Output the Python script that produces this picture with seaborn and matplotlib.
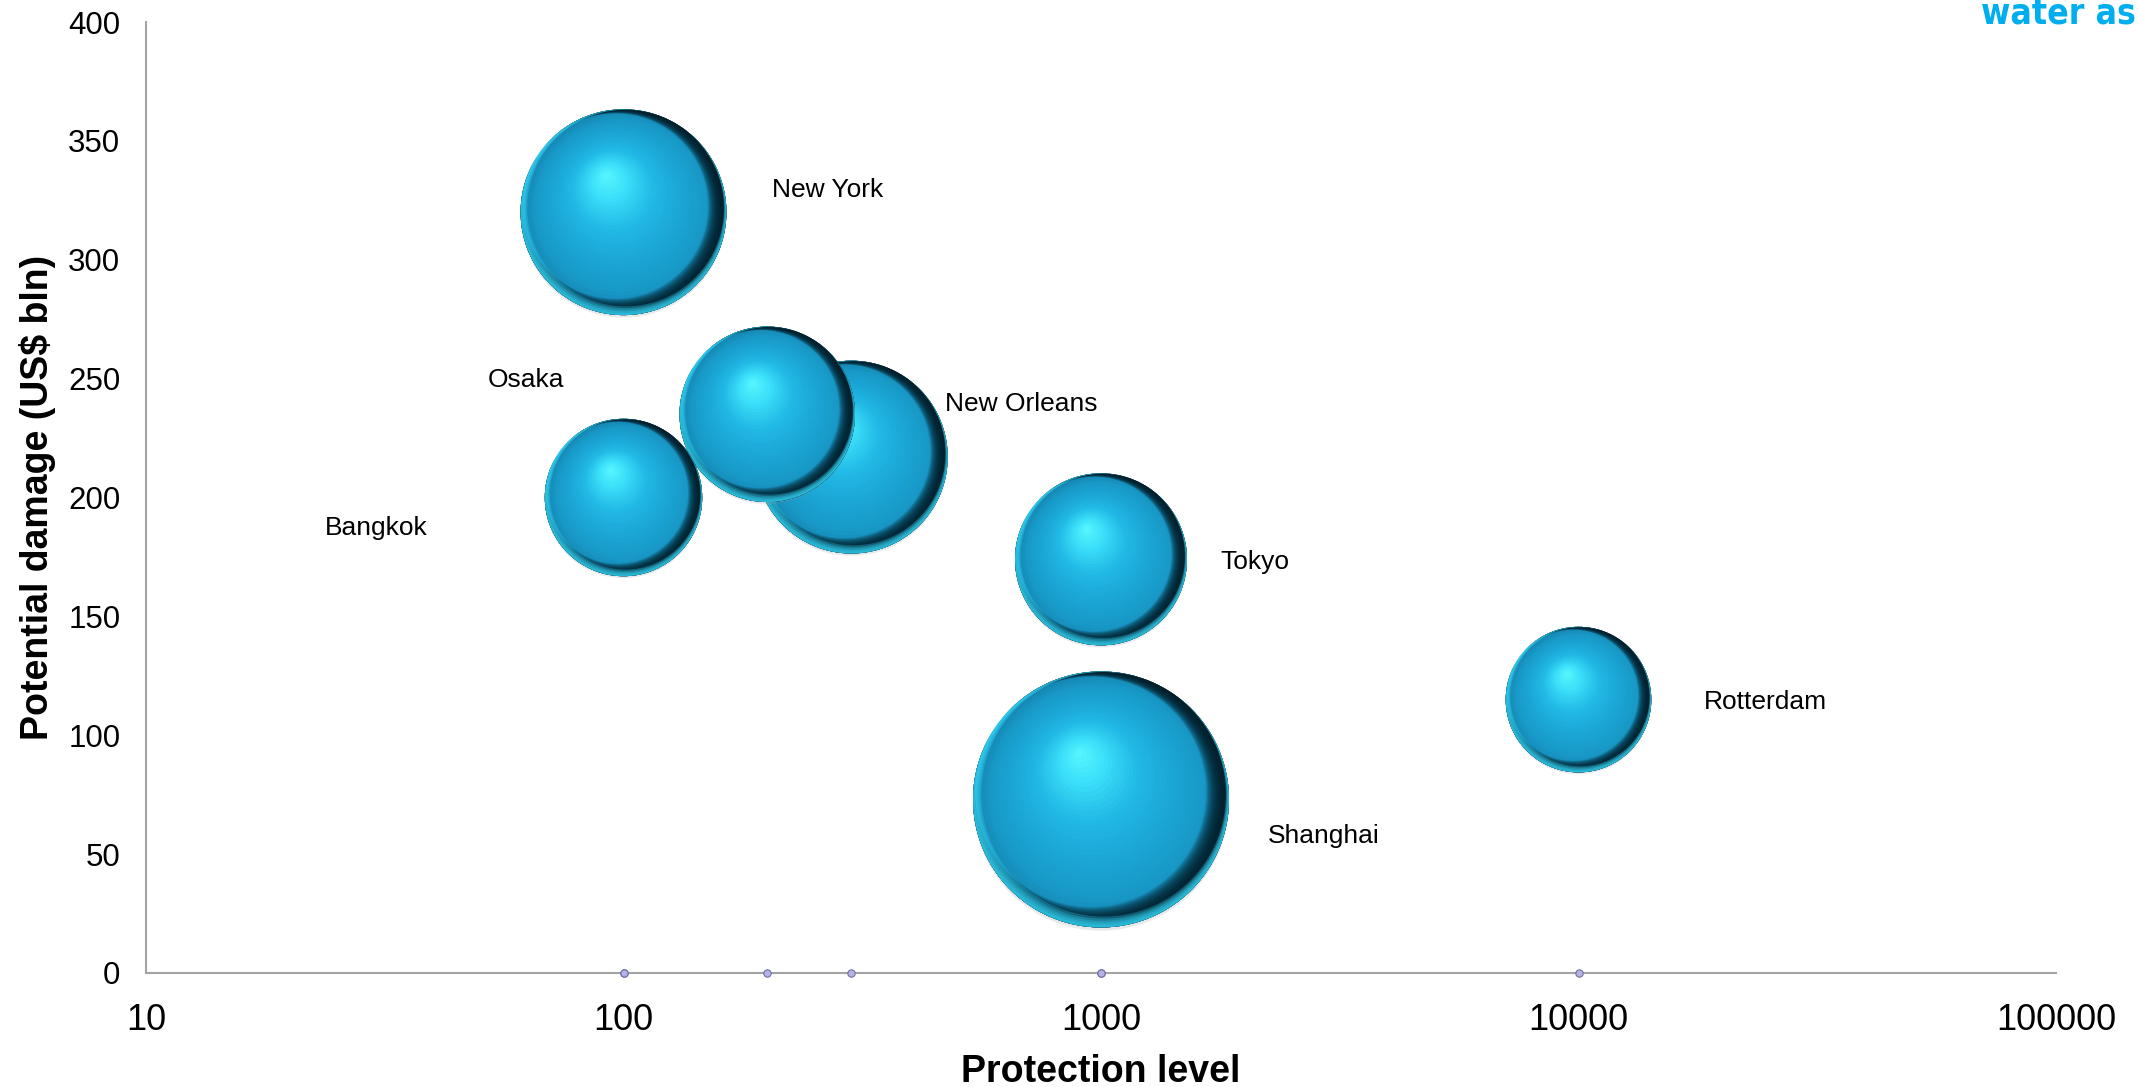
import numpy as np
import pandas as pd
import matplotlib
matplotlib.use("Agg")
import matplotlib.pyplot as plt
import matplotlib.transforms as mtransforms
from matplotlib.colors import LinearSegmentedColormap
from matplotlib.ticker import FuncFormatter, NullLocator
from matplotlib.path import Path
from matplotlib import font_manager
import seaborn as sns

# ---------------- data ----------------
cities = ["New York", "New Orleans", "Osaka", "Bangkok", "Tokyo", "Shanghai", "Rotterdam"]
protection_level = [100, 300, 200, 100, 1000, 1000, 10000]
potential_damage = [320, 217, 235, 200, 174, 73, 115]
bubble_size = [10.6, 9.3, 7.7, 6.2, 7.4, 16.4, 5.3]

x_ticks = [10, 100, 1000, 10000, 100000]
y_ticks = [0, 50, 100, 150, 200, 250, 300, 350, 400]

x_label = "Protection level"
y_label = "Potential damage (US$ bln)"
corner_text = "water as"

# ---------------- layout (pixels, figure is 2138 x 1087 at 100 dpi) ----------------
W, H, DPI = 2138, 1087, 100
PX_TO_PT = 72 / DPI
AX_L, AX_R, AX_T, AX_B = 146, 2056, 22, 973
MAX_RADIUS_PX = 128
# label offsets from bubble centre (px right, px up)
label_offsets = {
    "New York": (148, 22), "Osaka": (-279, 34), "New Orleans": (94, 53),
    "Bangkok": (-299, -31), "Tokyo": (119, -3), "Shanghai": (167, -37),
    "Rotterdam": (125, -2),
}

sns.set_style("white")
plt.rcParams["font.family"] = ["Liberation Sans", "DejaVu Sans"]

fig = plt.figure(figsize=(W / DPI, H / DPI), dpi=DPI)
ax = fig.add_axes([AX_L / W, 1 - AX_B / H, (AX_R - AX_L) / W, (AX_B - AX_T) / H])
ax.set_xscale("log")
ax.set_xlim(10, 100000)
ax.set_ylim(0, 400)

df = pd.DataFrame({"city": cities, "protection": protection_level,
                   "damage": potential_damage, "bubble": bubble_size})
max_size = df["bubble"].max()
max_area = (2 * MAX_RADIUS_PX * PX_TO_PT) ** 2

body_cmap = LinearSegmentedColormap.from_list("body", [
    (0.0, "#5af8ff"), (0.18, "#3be0f9"), (0.4, "#22b9e6"),
    (0.62, "#1ba7d7"), (0.85, "#1898c6"), (1.0, "#1683ae")])


def crescent(rho, direction, n=256):
    """Unit disc minus an internally tangent disc of radius rho (marker path)."""
    d = np.asarray(direction, float)
    d = d / np.hypot(*d)
    t = np.linspace(0, 2 * np.pi, n, endpoint=False)
    outer = np.column_stack([np.cos(t), np.sin(t)])
    c = (1 - rho) * d
    inner = np.column_stack([c[0] + rho * np.cos(-t), c[1] + rho * np.sin(-t)])
    verts = np.vstack([outer, outer[:1], inner, inner[:1]])
    codes = ([Path.MOVETO] + [Path.LINETO] * (n - 1) + [Path.CLOSEPOLY]) * 2
    return Path(verts, codes)


dark_markers = [crescent(rho, (-0.8, 0.6)) for rho in np.linspace(0.99, 0.90, 24)]
refl_markers = [crescent(rho, (0.45, 0.9)) for rho in np.linspace(0.99, 0.955, 5)]


def layer(row_df, radius_frac, dx, dy, color, z, alpha=1.0, marker="o"):
    tr = mtransforms.offset_copy(ax.transData, fig=fig, x=dx, y=dy, units="points")
    sns.scatterplot(data=row_df, x="protection", y="damage", size="bubble",
                    sizes=(0, max_area * radius_frac ** 2), size_norm=(0, max_size),
                    color=color, alpha=alpha, linewidth=0, edgecolor="none",
                    marker=marker, legend=False, ax=ax,
                    transform=tr, zorder=z, clip_on=False)


order = df.sort_values("bubble", ascending=False).index
hl = np.array([-0.17, 0.36])   # highlight position (radius units)

for i, idx in enumerate(order):
    row = df.loc[[idx]]
    r = MAX_RADIUS_PX * PX_TO_PT * np.sqrt(row["bubble"].iloc[0] / max_size)
    z = 3 + i
    # soft shadow
    layer(row, 1.0, 0, -0.025 * r, "#8a9499", z, alpha=0.2)
    # body: radial gradient toward the highlight
    N = 36
    for k in range(N):
        f = 1 - k / N
        c = hl * (1 - f)
        layer(row, f, c[0] * r, c[1] * r, body_cmap(f), z)
    # dark shading on the lower-right side
    for m in dark_markers:
        layer(row, 1.0, 0, 0, "#021d28", z, alpha=0.12, marker=m)
    # reflected cyan light along the bottom
    for m in refl_markers:
        layer(row, 1.0, 0, 0, "#33d8fa", z, alpha=0.3, marker=m)

# small markers on the x axis at each data x position
sns.scatterplot(x=protection_level, y=[0] * len(protection_level), s=28,
                color="#b4b4e4", edgecolor="#6f6fa6", linewidth=0.8,
                legend=False, ax=ax, zorder=20, clip_on=False)

# city labels
for _, row in df.iterrows():
    dx, dy = label_offsets[row["city"]]
    tr = mtransforms.offset_copy(ax.transData, fig=fig, x=dx * PX_TO_PT,
                                 y=dy * PX_TO_PT, units="points")
    ax.text(row["protection"], row["damage"], row["city"], transform=tr,
            ha="left", va="center", fontsize=19, color="black", zorder=30)

# axes styling
ax.set_xticks(x_ticks)
ax.xaxis.set_minor_locator(NullLocator())
ax.xaxis.set_major_formatter(FuncFormatter(lambda v, p: f"{int(round(v))}"))
ax.set_yticks(y_ticks)
for s in ["top", "right"]:
    ax.spines[s].set_visible(False)
for s in ["left", "bottom"]:
    ax.spines[s].set_color("#a3a3a3")
    ax.spines[s].set_linewidth(1.5)
ax.tick_params(axis="x", direction="out", length=8, width=1.3, color="#a3a3a3",
               labelsize=26, pad=13.5, labelcolor="black")
ax.tick_params(axis="y", direction="out", length=6.5, width=1.3, color="#a3a3a3",
               labelsize=22.5, pad=12, labelcolor="black")
ax.grid(False)

ax.set_xlabel(x_label, fontsize=27, fontweight="bold", color="black")
ax.xaxis.label.set_va("baseline")
ax.xaxis.set_label_coords(0.5, -(1082 - AX_B) / (AX_B - AX_T))
ax.set_ylabel(y_label, fontsize=27, fontweight="bold", color="black")
ax.yaxis.label.set_va("center")
ax.yaxis.set_label_coords(-(AX_L - 37) / (AX_R - AX_L), 0.5)

# corner text (its top is cut off at the figure edge, as in the original)
names = {f.name for f in font_manager.fontManager.ttflist}
if "Liberation Sans Narrow" in names:
    corner_kw = dict(family=["Liberation Sans Narrow", "DejaVu Sans"], fontsize=30)
else:
    corner_kw = dict(family=["DejaVu Sans"], fontstretch="condensed", fontsize=25.5)
fig.text(1981 / W, 1 - 24 / H, corner_text, ha="left", va="baseline",
         fontweight="bold", color="#00aeef", **corner_kw)

fig.savefig("out.png", dpi=DPI)
